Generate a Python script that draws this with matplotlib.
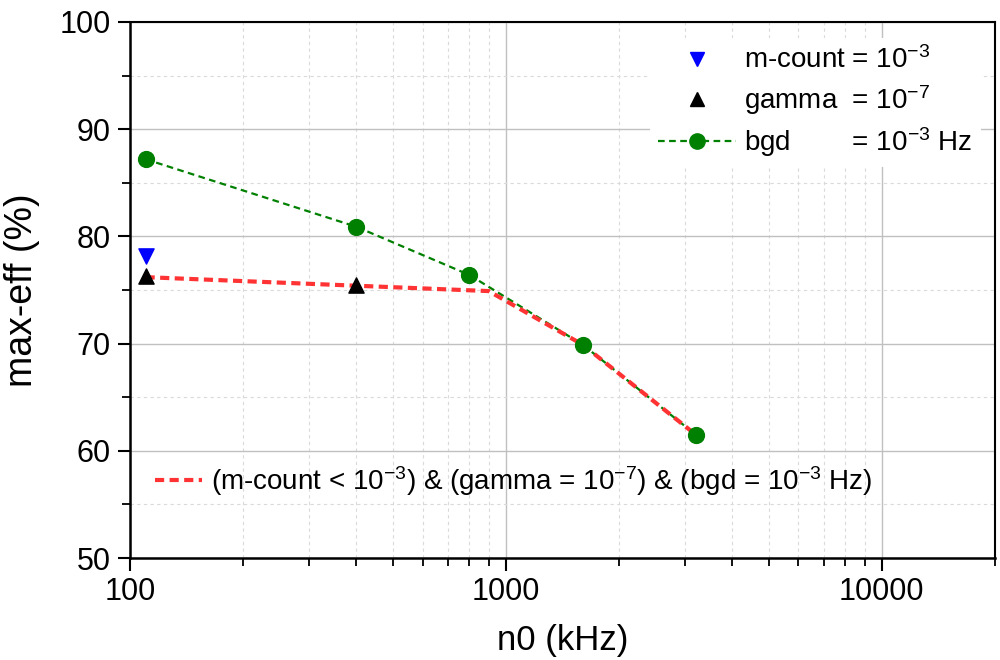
import matplotlib
matplotlib.use("Agg")
import matplotlib.pyplot as plt
from matplotlib.ticker import FixedLocator, NullFormatter, MultipleLocator, LogLocator
from matplotlib.lines import Line2D

plt.rcParams['font.family'] = ['Liberation Sans', 'DejaVu Sans']
plt.rcParams['mathtext.fontset'] = 'custom'
plt.rcParams['mathtext.rm'] = 'Liberation Sans'
plt.rcParams['mathtext.it'] = 'Liberation Sans'

# data
bgd_x = [110, 400, 800, 1600, 3200]
bgd_y = [87.2, 80.9, 76.4, 69.9, 61.5]

mcount_x = [110]
mcount_y = [78.2]

gamma_x = [110, 400]
gamma_y = [76.3, 75.5]

combo_x = [110, 400, 900, 1600, 3200]
combo_y = [76.2, 75.4, 74.9, 69.9, 61.5]

x_ticks = [100, 1000, 10000]
x_tick_labels = ["100", "1000", "10000"]
y_ticks = [50, 60, 70, 80, 90, 100]

fig = plt.figure(figsize=(10, 6.6), dpi=100)
ax = fig.add_axes([0.13, 0.1545, 0.865, 0.8122])

ax.set_xscale('log')
ax.set_xlim(100, 20000)
ax.set_ylim(50, 100)

# grid
ax.grid(which='major', color='#c0c0c0', linestyle='-', linewidth=1.0, zorder=0)
ax.grid(which='minor', color='#dadada', linestyle=(0, (3, 3)), linewidth=0.8, zorder=0)
ax.set_axisbelow(True)

# lines
ax.plot(bgd_x, bgd_y, color='#008000', linestyle=(0, (3, 2)), linewidth=1.6, zorder=3)
ax.plot(combo_x, combo_y, color='#ff3333', linestyle=(0, (2.2, 1.3)), linewidth=3.0, zorder=4)

# markers
ax.scatter(bgd_x, bgd_y, s=130, color='#008000', marker='o', zorder=5)
ax.scatter(mcount_x, mcount_y, s=120, color='#0000ff', marker='v', zorder=5)
ax.scatter(gamma_x, gamma_y, s=120, color='black', marker='^', zorder=5)

# ticks
ax.xaxis.set_major_locator(FixedLocator(x_ticks))
ax.set_xticklabels(x_tick_labels)
ax.xaxis.set_minor_locator(LogLocator(base=10, subs=range(2, 10)))
ax.xaxis.set_minor_formatter(NullFormatter())
ax.yaxis.set_major_locator(FixedLocator(y_ticks))
ax.yaxis.set_minor_locator(MultipleLocator(5))

ax.tick_params(which='major', direction='out', length=9, width=1.5, labelsize=22, pad=5)
ax.tick_params(which='minor', direction='out', length=6, width=1.3)
ax.tick_params(top=False, right=False, which='both')

for side in ['left', 'bottom']:
    ax.spines[side].set_linewidth(1.8)
for side in ['top', 'right']:
    ax.spines[side].set_linewidth(1.5)

ax.set_xlabel('n0 (kHz)', fontsize=25, labelpad=12)
ax.set_ylabel('max-eff (%)', fontsize=27, labelpad=14)

# top-right legend
handles = [
    Line2D([], [], color='#0000ff', marker='v', linestyle='none', markersize=10),
    Line2D([], [], color='black', marker='^', linestyle='none', markersize=10),
    Line2D([], [], color='#008000', marker='o', linestyle=(0, (3, 2)), linewidth=1.6, markersize=11),
]
labels = [
    'm-count = 10$^{-3}$',
    'gamma  = 10$^{-7}$',
    'bgd        = 10$^{-3}$ Hz',
]
leg1 = ax.legend(handles, labels, loc='upper right', bbox_to_anchor=(0.99, 0.98),
                 fontsize=20, frameon=True, framealpha=1, edgecolor='none',
                 fancybox=False, handlelength=2.8, labelspacing=0.3,
                 handletextpad=0.3, borderpad=0.3, borderaxespad=0.2)
ax.add_artist(leg1)

# bottom legend
h2 = [Line2D([], [], color='#ff3333', linestyle=(0, (2.2, 1.3)), linewidth=3.0)]
ax.legend(h2, ['(m-count < 10$^{-3}$) & (gamma = 10$^{-7}$) & (bgd = 10$^{-3}$ Hz)'],
          loc='lower left', bbox_to_anchor=(0.0, 0.065), fontsize=20, frameon=False,
          handlelength=1.7, handletextpad=0.3)

fig.savefig('out.png', dpi=100)
